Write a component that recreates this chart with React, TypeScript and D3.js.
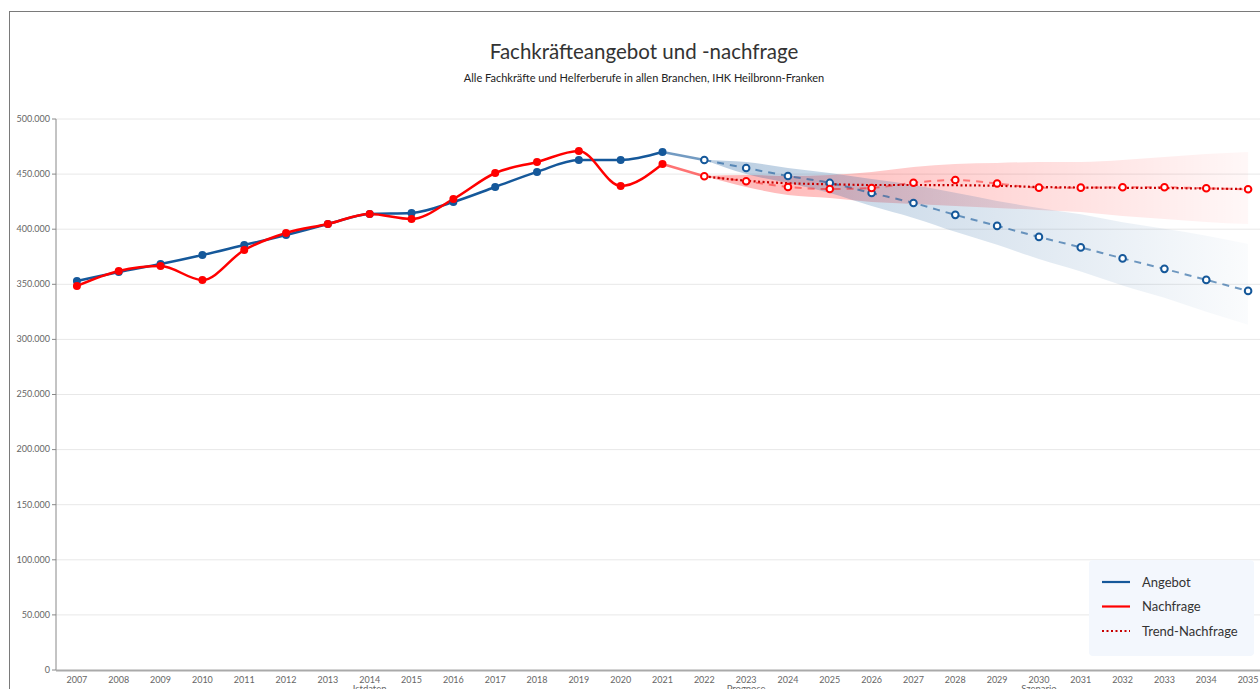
import React from "react";
import * as d3 from "d3";

const years = d3.range(2007, 2036).map(String);

// Istdaten 2007-2021
const angebotIst = [353000, 361200, 368400, 376600, 385700, 394700, 404700, 413800, 414700, 424700, 438300, 452000, 462800, 462800, 470000];
const nachfrageIst = [348500, 362100, 366600, 353900, 381100, 396600, 404700, 413800, 409300, 427400, 451000, 461000, 471000, 439200, 459200];

// Prognose/Szenario 2022-2035
const angebotProg = [462800, 455500, 448300, 442000, 432800, 423800, 413000, 403000, 393000, 383500, 373500, 364000, 354000, 344000];
const nachfrageProg = [448000, 443500, 438300, 436500, 437400, 442200, 444600, 441500, 437700, 437700, 438000, 438000, 437100, 436200];
const trendNachfrage = [448000, 444000, 441700, 440800, 440100, 440100, 439900, 439400, 438300, 437800, 437600, 437400, 436900, 436500];

const angebotOben = [462800, 460900, 455600, 451100, 445500, 440100, 433000, 425700, 419300, 413500, 406200, 400300, 394000, 386600];
const angebotUnten = [462800, 450100, 441900, 432900, 421000, 410200, 397600, 385800, 373000, 361700, 349000, 337700, 325000, 313200];
const nachfrageOben = [448300, 449200, 448300, 449200, 451900, 456400, 459200, 460100, 461000, 461000, 462800, 465500, 468200, 470000];
const nachfrageUnten = [448300, 438300, 431100, 428300, 424700, 422900, 421100, 419300, 417500, 415600, 412000, 409300, 406600, 404700];

const yTicks = d3.range(0, 500001, 50000);
const groups = [
  { label: "Istdaten", year: "2014" },
  { label: "Prognose", year: "2023" },
  { label: "Szenario", year: "2030" },
];

const BLUE = "#15589a";
const RED = "#ff0000";
const TREND = "#c80000";
const font = "Lato, 'Noto Sans', sans-serif";

export default function App() {
  const width = 1260;
  const height = 689;
  const x = d3.scalePoint<string>().domain(years).range([56, 1269]).padding(0.5);
  const y = d3.scaleLinear().domain([0, 500000]).range([670, 119]);

  const istYears = years.slice(0, 15);
  const progYears = years.slice(15);

  const line = d3
    .line<[string, number]>()
    .x((d) => x(d[0])!)
    .y((d) => y(d[1]))
    .curve(d3.curveMonotoneX);

  const area = d3
    .area<[string, number, number]>()
    .x((d) => x(d[0])!)
    .y0((d) => y(d[1]))
    .y1((d) => y(d[2]))
    .curve(d3.curveMonotoneX);

  const zip = (ys: string[], vs: number[]) => ys.map((yr, i) => [yr, vs[i]] as [string, number]);
  const zip3 = (ys: string[], a: number[], b: number[]) =>
    ys.map((yr, i) => [yr, a[i], b[i]] as [string, number, number]);

  const fmt = (v: number) => d3.format(",")(v).replace(/,/g, ".");

  const x0 = x("2022")!;
  const x1 = x("2035")!;

  return (
    <svg width={width} height={height} style={{ position: "absolute", left: 0, top: 0, display: "block", background: "#fff" }} fontFamily={font}>
      <defs>
        <linearGradient id="gradBlue" gradientUnits="userSpaceOnUse" x1={x0} y1={0} x2={x1} y2={0}>
          <stop offset="0%" stopColor={BLUE} stopOpacity={0.3} />
          <stop offset="100%" stopColor={BLUE} stopOpacity={0.02} />
        </linearGradient>
        <linearGradient id="gradRed" gradientUnits="userSpaceOnUse" x1={x0} y1={0} x2={x1} y2={0}>
          <stop offset="0%" stopColor={RED} stopOpacity={0.3} />
          <stop offset="100%" stopColor={RED} stopOpacity={0.03} />
        </linearGradient>
      </defs>

      <rect x={9.5} y={11.5} width={1300} height={720} fill="#fff" stroke="#7a7a7a" strokeWidth={1} />

      <text x={644} y={59} textAnchor="middle" fontSize={20.5} fill="#333">
        Fachkräfteangebot und -nachfrage
      </text>
      <text x={644} y={82} textAnchor="middle" fontSize={11} fill="#222">
        Alle Fachkräfte und Helferberufe in allen Branchen, IHK Heilbronn-Franken
      </text>

      {/* grid + y axis */}
      {yTicks.map((t) => (
        <g key={t}>
          {t > 0 && <line x1={56} x2={1260} y1={y(t)} y2={y(t)} stroke="#e8e8e8" strokeWidth={1} />}
          <line x1={52} x2={56} y1={y(t)} y2={y(t)} stroke="#888" />
          <text x={50} y={y(t)} dy="0.32em" textAnchor="end" fontSize={9} fill="#666">
            {fmt(t)}
          </text>
        </g>
      ))}
      <line x1={56} x2={56} y1={119} y2={670} stroke="#888" strokeWidth={1} />
      <line x1={56} x2={1260} y1={670.5} y2={670.5} stroke="#aaa" strokeWidth={2} />

      {years.map((yr) => (
        <text key={yr} x={x(yr)} y={683} textAnchor="middle" fontSize={9} fill="#666">
          {yr}
        </text>
      ))}
      {groups.map((g) => (
        <text key={g.label} x={x(g.year)} y={692} textAnchor="middle" fontSize={9.5} fill="#666">
          {g.label}
        </text>
      ))}

      {/* bands */}
      <path d={area(zip3(progYears, nachfrageUnten, nachfrageOben)) || undefined} fill="url(#gradRed)" />
      <path d={area(zip3(progYears, angebotUnten, angebotOben)) || undefined} fill="url(#gradBlue)" />

      {/* forecast lines */}
      <path d={line([["2021", angebotIst[14]], ["2022", angebotProg[0]]]) || undefined} fill="none" stroke={BLUE} strokeOpacity={0.6} strokeWidth={2.5} />
      <path d={line([["2021", nachfrageIst[14]], ["2022", nachfrageProg[0]]]) || undefined} fill="none" stroke={RED} strokeOpacity={0.55} strokeWidth={2.5} />
      <path d={line(zip(progYears, angebotProg)) || undefined} fill="none" stroke={BLUE} strokeOpacity={0.6} strokeWidth={2} strokeDasharray="7,6" />
      <path d={line(zip(progYears, nachfrageProg)) || undefined} fill="none" stroke={RED} strokeOpacity={0.45} strokeWidth={2} strokeDasharray="7,6" />
      <path d={line(zip(progYears, trendNachfrage)) || undefined} fill="none" stroke={TREND} strokeWidth={2.2} strokeDasharray="2,2.5" />

      {/* historical lines */}
      <path d={line(zip(istYears, angebotIst)) || undefined} fill="none" stroke={BLUE} strokeWidth={2.5} />
      <path d={line(zip(istYears, nachfrageIst)) || undefined} fill="none" stroke={RED} strokeWidth={2.5} />

      {istYears.map((yr, i) => (
        <g key={"ist" + yr}>
          <circle cx={x(yr)} cy={y(angebotIst[i])} r={4} fill={BLUE} />
          <circle cx={x(yr)} cy={y(nachfrageIst[i])} r={4} fill={RED} />
        </g>
      ))}
      {progYears.map((yr, i) => (
        <g key={"prog" + yr}>
          <circle cx={x(yr)} cy={y(angebotProg[i])} r={3.3} fill="#fff" stroke={BLUE} strokeWidth={2} />
          <circle cx={x(yr)} cy={y(nachfrageProg[i])} r={3.3} fill="#fff" stroke={RED} strokeWidth={2} />
        </g>
      ))}

      {/* legend */}
      <rect x={1089} y={560} width={165} height={96} rx={4} fill="#f3f7fd" />
      {[
        { label: "Angebot", color: BLUE, dash: undefined },
        { label: "Nachfrage", color: RED, dash: undefined },
        { label: "Trend-Nachfrage", color: TREND, dash: "2,2.5" },
      ].map((l, i) => (
        <g key={l.label} transform={`translate(0, ${582 + i * 24.5})`}>
          <line x1={1102} x2={1130} y1={0} y2={0} stroke={l.color} strokeWidth={2.2} strokeDasharray={l.dash} />
          <text x={1142} y={0} dy="0.35em" fontSize={13} fill="#333">
            {l.label}
          </text>
        </g>
      ))}
    </svg>
  );
}
